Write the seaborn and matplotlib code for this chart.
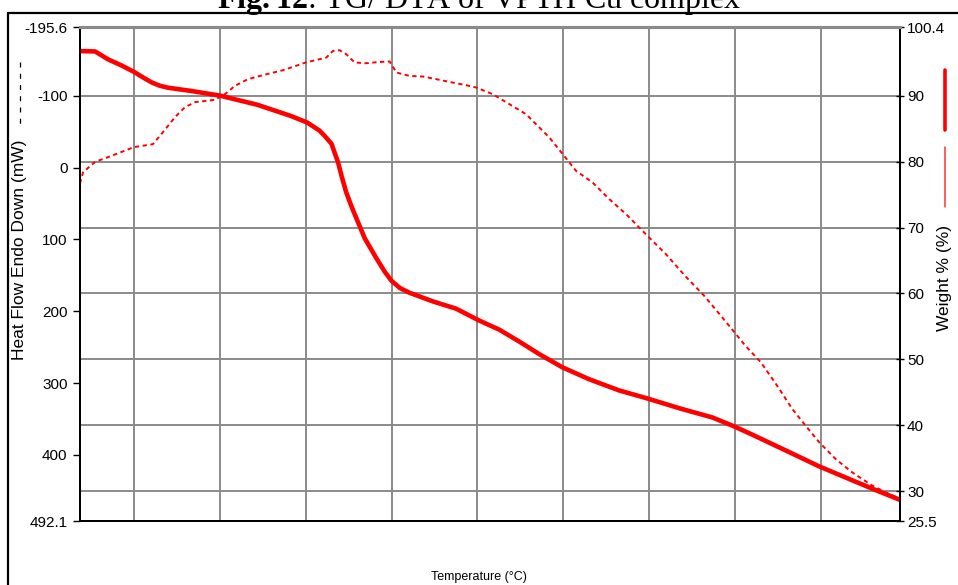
import numpy as np
import pandas as pd
import matplotlib
matplotlib.use("Agg")
import matplotlib.pyplot as plt
from matplotlib.lines import Line2D
import seaborn as sns

sns.set_style("white")
plt.rcParams['font.family'] = ['Liberation Sans', 'DejaVu Sans']
plt.rcParams['text.color'] = 'black'
plt.rcParams['mathtext.fontset'] = 'custom'
plt.rcParams['mathtext.rm'] = 'Liberation Serif'
plt.rcParams['mathtext.bf'] = 'Liberation Serif:bold'

# TG curve (Weight %, right axis)
tg_temp = [37.08, 54.7, 69.8, 85, 100, 110, 120.6, 130, 139.5, 167, 200, 244, 283, 302, 316,
           322, 330, 337.6, 342, 347, 353, 359, 368.6, 382, 392, 400, 410, 421, 448, 475,
           502, 525.6, 548.8, 572, 599, 630, 665, 700, 735, 773.6, 798, 820, 859, 897.7,
           936, 963.6, 992.2]
tg_weight = [96.75, 96.7, 95.5, 94.6, 93.6, 92.8, 92.0, 91.5, 91.2, 90.7, 90.0, 88.6, 86.9, 85.9, 84.7,
             83.9, 82.7, 79.9, 77.7, 75.4, 73.3, 71.4, 68.4, 65.4, 63.3, 61.9, 60.8, 60.1, 58.8, 57.7,
             55.9, 54.5, 52.7, 50.8, 48.8, 47.0, 45.3, 44.0, 42.6, 41.2, 39.9, 38.6, 36.2, 33.8,
             31.7, 30.2, 28.7]

# DTA curve (Heat flow, left axis)
dta_temp = [37.08, 40.7, 54.7, 69.8, 100, 122, 133.7, 147.7, 159.3, 171, 194, 205.8, 217.4,
            232.6, 254.3, 273.6, 300, 324, 331.7, 339.5, 347.3, 357, 370.6, 386, 397.7,
            405.5, 421, 436.4, 452, 467.4, 486.9, 498.5, 517.8, 537.2, 556.6, 572, 583.7,
            599.2, 614.8, 634, 653.5, 673, 694, 719.4, 742.7, 764, 785, 812, 830, 849,
            866.6, 884, 897.7, 917, 936, 959.7, 975, 992.2]
dta_heat = [22, 6.4, -7.9, -14.5, -28.4, -32.5, -49.2, -70.1, -84, -91, -94.2, -102, -113.6,
            -123, -129.9, -135.5, -146.2, -153.1, -162.3, -163.3, -157.7, -146.2, -145.2, -147, -147.6,
            -132.3, -127.5, -126.7, -123, -119.2, -114.6, -111.4, -102.1, -88.2, -74.3, -55.8, -41.9,
            -18.8, 4.6, 20.7, 43.9, 64.8, 90.3, 120.5, 152, 178.4, 208.5, 248, 271, 303.6,
            336, 362, 382, 405.6, 424, 442.7, 452, 461]

x_ticks = [37.08, 100, 200, 300, 400, 500, 600, 700, 800, 900, 992.2]
x_labels = ["37.08", "100", "200", "300", "400", "500", "600", "700", "800", "900", "992.2"]
left_ticks = [-195.6, -100, 0, 100, 200, 300, 400, 492.1]
left_labels = ["-195.6", "-100", "0", "100", "200", "300", "400", "492.1"]
right_ticks = [100.4, 90, 80, 70, 60, 50, 40, 30, 25.5]
right_labels = ["100.4", "90", "80", "70", "60", "50", "40", "30", "25.5"]

tg = pd.DataFrame({"temp": tg_temp, "weight": tg_weight})
dta = pd.DataFrame({"temp": dta_temp, "heat": dta_heat})

fig = plt.figure(figsize=(9.58, 5.85), dpi=100)
ax2 = fig.add_axes([0.0835, 0.1094, 0.856, 0.8444])
ax = ax2.twinx()
ax.set_zorder(3)
ax.patch.set_visible(False)

# left heat-flow axis on the left, weight on the right
ax.yaxis.tick_left()
ax.yaxis.set_label_position("left")
ax2.yaxis.tick_right()
ax2.yaxis.set_label_position("right")

grid_col = "#8a8a8a"
tick_fs = 11

# TG (thick solid, right axis)
sns.lineplot(data=tg, x="temp", y="weight", ax=ax2, color="#ff0000", linewidth=3.3,
             sort=False, zorder=3, solid_joinstyle="round", solid_capstyle="butt")
ax2.set_xlim(37.08, 992.2)
ax2.set_ylim(25.5, 100.4)
ax2.set_xticks(x_ticks)
ax2.set_yticks(right_ticks)
ax2.set_yticklabels(right_labels, fontsize=tick_fs)
ax2.grid(True, color=grid_col, linewidth=1.4)
ax2.set_axisbelow(True)
ax2.tick_params(axis="y", direction="inout", length=6, width=1, pad=2, colors="black")
ax2.tick_params(axis="x", labelbottom=False, length=0)
ax2.set_xlabel("")
ax2.set_ylabel("")

# DTA (dotted, left axis)
sns.lineplot(data=dta, x="temp", y="heat", ax=ax, color="#ff0000", linewidth=1.4,
             linestyle=(0, (2.2, 1.8)), sort=False)
ax.set_xlim(37.08, 992.2)
ax.set_ylim(492.1, -195.6)
ax.set_yticks(left_ticks)
ax.set_yticklabels(left_labels, fontsize=tick_fs)
ax.set_xticks(x_ticks)
ax.set_xticklabels(x_labels, fontsize=tick_fs)
ax.tick_params(axis="y", direction="out", length=5, width=1, pad=4, colors="black")
ax.tick_params(axis="x", direction="out", length=6, width=1, pad=18, colors="black")
ax.set_xlabel("")
ax.set_ylabel("")

for a in (ax, ax2):
    for side in ("left", "right", "bottom"):
        a.spines[side].set_color("black")
        a.spines[side].set_linewidth(1.3)
    a.spines["top"].set_color(grid_col)
    a.spines["top"].set_linewidth(2.2)

# axis titles
fig.text(0.5, 1 - 577 / 585, "Temperature (°C)", ha="center", va="center", fontsize=9,
         color="black")
fig.text(20 / 958, 1 - 250 / 585, "Heat Flow Endo Down (mW)", rotation=90,
         ha="center", va="center", fontsize=12.5, color="black")
fig.text(945 / 958, 1 - 278 / 585, "Weight % (%)", rotation=90,
         ha="center", va="center", fontsize=12.5, color="black")

# legend samples
fig.add_artist(Line2D([20 / 958, 20 / 958], [1 - 62 / 585, 1 - 128 / 585], color="black",
                      linewidth=0.9, linestyle=(0, (4, 5))))
fig.add_artist(Line2D([945 / 958, 945 / 958], [1 - 70 / 585, 1 - 130 / 585],
                      color="#ff0000", linewidth=2.6))
fig.add_artist(Line2D([945 / 958, 945 / 958], [1 - 147 / 585, 1 - 207 / 585],
                      color="#ff3030", linewidth=1.1))

# outer frame
fig.add_artist(Line2D([8 / 958, 8 / 958], [0, 1 - 13 / 585], color="black", linewidth=1.6))
fig.add_artist(Line2D([8 / 958, 1], [1 - 13 / 585, 1 - 13 / 585], color="black", linewidth=1.6))

# title (clipped at top as in the source)
fig.text(0.5, 1 - 8 / 585, r"$\mathbf{Fig.12}$: TG/ DTA of VPTH Cu complex", ha="center",
         va="baseline", fontsize=23, color="black",
         family=["Liberation Serif", "DejaVu Serif"])

fig.savefig("out.png", dpi=100)
